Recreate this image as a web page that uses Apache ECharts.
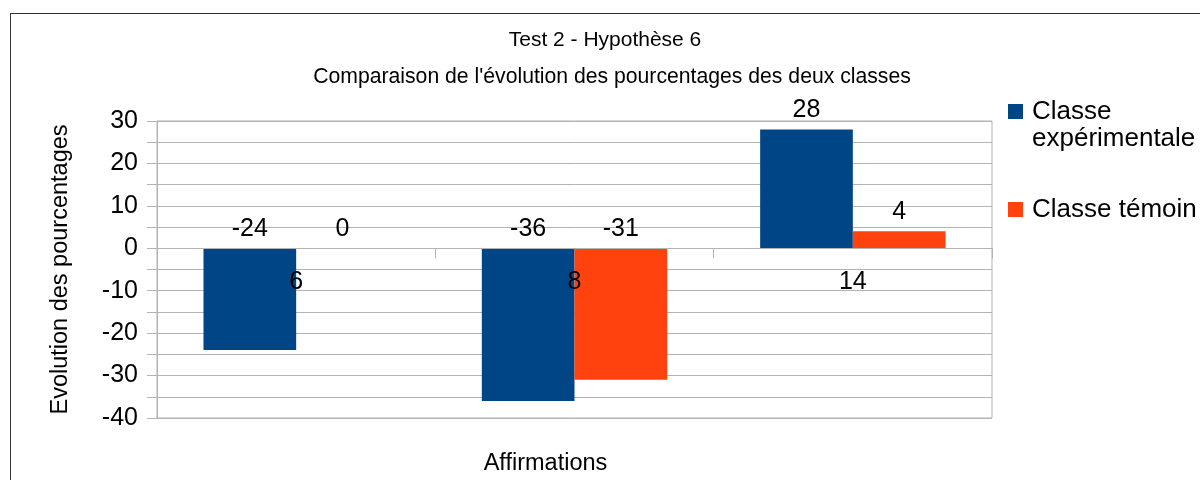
<!DOCTYPE html>
<html>
<head>
<meta charset="utf-8">
<script src="https://cdn.jsdelivr.net/npm/echarts@6/dist/echarts.min.js"></script>
<style>
  html, body { margin: 0; padding: 0; background: #fff; }
  #wrap { position: relative; width: 1200px; height: 480px; overflow: hidden; }
  #chart { position: absolute; left: 0; top: 0; width: 1200px; height: 480px; }
  #frame { position: absolute; left: 10px; top: 13px; width: 1300px; height: 600px; border: 1px solid #333; pointer-events: none; }
</style>
</head>
<body>
<div id="wrap">
  <div id="chart"></div>
  <div id="frame"></div>
</div>
<script>
const categories = ['6', '8', '14'];
const seriesNames = ['Classe expérimentale', 'Classe témoin'];
const experimentale = [-24, -36, 28];
const temoin = [0, -31, 4];
const titleText = 'Test 2 - Hypothèse 6';
const subtitleText = "Comparaison de l'évolution des pourcentages des deux classes";
const yAxisName = 'Evolution des pourcentages';
const xAxisName = 'Affirmations';

const FONT = 'Liberation Sans, Arial, sans-serif';
const GRID_COLOR = '#b3b3b3';

const chart = echarts.init(document.getElementById('chart'), null, { renderer: 'canvas' });

const labelCfg = {
  show: true,
  position: 'top',
  distance: 7,
  color: '#000',
  fontSize: 25,
  fontFamily: FONT
};

chart.setOption({
  animation: false,
  backgroundColor: '#fff',
  title: [
    { text: titleText, left: 600, top: 25, textAlign: 'center',
      textStyle: { fontSize: 21, fontWeight: 'normal', color: '#000', fontFamily: FONT } },
    { text: subtitleText, left: 607, top: 62, textAlign: 'center',
      textStyle: { fontSize: 21.2, fontWeight: 'normal', color: '#000', fontFamily: FONT } }
  ],
  legend: {
    orient: 'vertical',
    left: 1008,
    top: 71,
    padding: 0,
    itemWidth: 15,
    itemHeight: 15,
    itemGap: 44,
    icon: 'rect',
    selectedMode: false,
    textStyle: { fontSize: 26, color: '#000', fontFamily: FONT, lineHeight: 27, padding: [0, 0, 0, 4] },
    data: seriesNames,
    formatter: function (name) {
      return name === seriesNames[0] ? '\n' + name.replace(' ', '\n') : name;
    }
  },
  grid: {
    left: 157,
    right: 208,
    top: 121,
    bottom: 62,
    containLabel: false,
    outerBoundsMode: 'none',
    show: true,
    borderColor: GRID_COLOR,
    borderWidth: 1,
    backgroundColor: 'transparent'
  },
  xAxis: {
    type: 'category',
    data: categories,
    z: 5,
    name: xAxisName,
    nameLocation: 'middle',
    nameGap: 34,
    nameTextStyle: { fontSize: 23.5, color: '#000', fontFamily: FONT, padding: [0, 58, 0, 0] },
    axisLine: { show: true, onZero: true, lineStyle: { color: GRID_COLOR, width: 1 } },
    axisTick: { show: true, length: 10, alignWithLabel: false, lineStyle: { color: GRID_COLOR } },
    axisLabel: { margin: -148, fontSize: 25, color: '#000', fontFamily: FONT },
    splitLine: { show: false }
  },
  yAxis: {
    type: 'value',
    min: -40,
    max: 30,
    interval: 5,
    name: yAxisName,
    nameLocation: 'middle',
    nameRotate: 90,
    nameGap: 84,
    nameTextStyle: { fontSize: 23.5, color: '#000', fontFamily: FONT },
    axisLine: { show: true, lineStyle: { color: GRID_COLOR, width: 1 } },
    axisTick: { show: true, length: 10, lineStyle: { color: GRID_COLOR } },
    axisLabel: {
      margin: 19, fontSize: 25, color: '#000', fontFamily: FONT,
      formatter: function (v) { return v % 10 === 0 ? String(v) : ''; }
    },
    splitLine: { show: true, lineStyle: { color: GRID_COLOR, width: 1 } }
  },
  series: [
    {
      name: seriesNames[0],
      type: 'bar',
      data: experimentale,
      barGap: '0%',
      barCategoryGap: '33.4%',
      itemStyle: { color: '#004586' },
      label: labelCfg
    },
    {
      name: seriesNames[1],
      type: 'bar',
      data: temoin,
      itemStyle: { color: '#ff420e' },
      label: labelCfg
    }
  ]
});
</script>
</body>
</html>
